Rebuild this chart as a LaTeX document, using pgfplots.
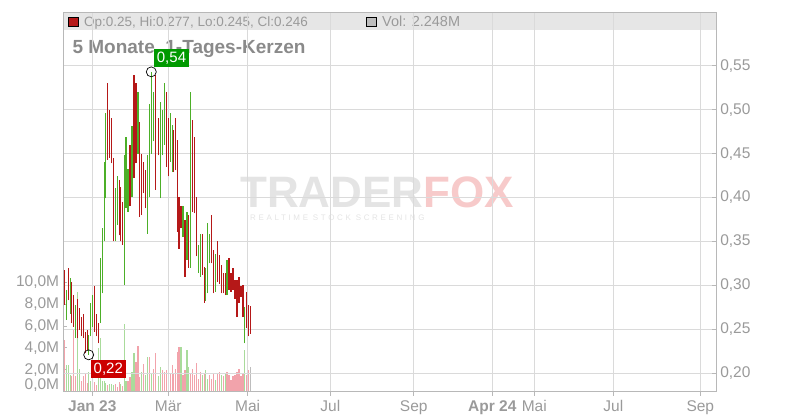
\documentclass[border=0pt]{standalone}
\usepackage{fontspec}
\setmainfont{Liberation Sans}
\usepackage{pgfplots}
\usepackage{pgfplotstable}
\pgfplotsset{compat=1.18}

\definecolor{lblgray}{HTML}{9A9A9A}
\definecolor{titlegray}{HTML}{8A8A8A}
\definecolor{gridgray}{HTML}{DADADA}
\definecolor{axisgray}{HTML}{B8B8B8}
\definecolor{cred}{HTML}{B51818}
\definecolor{cgreen}{HTML}{4CAF28}
\definecolor{vred}{HTML}{F2A3AB}
\definecolor{vgreen}{HTML}{A9DB9B}
\definecolor{vgray}{HTML}{BDBDBD}
\definecolor{hdr}{HTML}{E6E6E6}
\definecolor{boxgreen}{HTML}{009900}
\definecolor{boxred}{HTML}{CC0000}
\definecolor{wmgray}{HTML}{E4E4E4}
\definecolor{wmpink}{HTML}{F7CACA}

% x = pixel position, lo/hi = price range, c = candle colour (0 red, 1 green),
% v = volume in millions, vc = volume colour (0 red, 1 green, 2 grey)
\pgfplotstableread{
x lo hi c v vc
64.3 0.278 0.318 0 4.7 0
66.3 0.261 0.295 1 2.4 1
68.3 0.283 0.320 0 2.4 1
70.3 0.268 0.308 1 1.5 1
71.7 0.257 0.304 0 1.4 0
73.7 0.253 0.289 0 5.6 0
75.7 0.240 0.278 1 1.4 0
77.3 0.240 0.285 0 9.1 1
79.3 0.249 0.274 0 2.1 1
81.3 0.242 0.264 0 1.0 0
83.3 0.240 0.268 0 1.4 0
85.3 0.223 0.247 0 1.7 0
87.3 0.227 0.249 0 0.8 0
88.7 0.221 0.244 1 1.8 1
90.7 0.242 0.280 1 1.0 1
92.7 0.253 0.289 1 1.0 1
94.3 0.247 0.299 0 0.9 0
96.3 0.242 0.268 0 0.6 0
98.3 0.234 0.257 0 4.0 1
100.3 0.257 0.331 1 4.9 1
102.3 0.291 0.365 1 1.0 1
104.3 0.350 0.441 1 1.0 1
105.7 0.399 0.496 1 0.8 1
107.7 0.443 0.530 0 0.6 0
109.3 0.445 0.500 0 0.7 1
111.3 0.439 0.490 0 0.7 1
113.3 0.350 0.445 0 0.6 1
115.3 0.350 0.411 1 0.7 0
117.3 0.369 0.424 1 0.4 0
119.3 0.357 0.420 0 0.9 0
120.7 0.350 0.412 0 0.7 1
122.7 0.346 0.395 0 0.5 0
124.3 0.301 0.448 1 6.2 1
126.0 0.388 0.469 1 1.0 1
128.0 0.384 0.433 1 1.0 0
130.0 0.390 0.460 0 1.3 0
132.0 0.401 0.481 1 1.8 1
134.0 0.422 0.539 0 3.5 1
136.0 0.439 0.530 0 2.7 0
138.0 0.450 0.520 1 4.2 0
139.7 0.378 0.486 0 1.3 0
141.7 0.380 0.450 0 1.8 1
143.7 0.405 0.441 0 2.5 0
145.3 0.388 0.431 0 1.5 1
147.3 0.359 0.448 1 3.2 1
149.3 0.401 0.507 1 3.2 0
151.3 0.450 0.543 1 1.6 1
153.3 0.464 0.520 1 2.1 0
155.7 0.409 0.539 0 3.5 0
158.3 0.448 0.490 0 1.4 1
160.3 0.399 0.509 1 2.3 1
162.3 0.448 0.500 1 2.0 0
164.3 0.460 0.530 1 1.8 0
166.3 0.435 0.520 0 2.0 0
168.3 0.424 0.490 0 2.1 1
170.3 0.441 0.496 1 1.7 0
172.3 0.429 0.483 1 2.4 0
173.7 0.429 0.477 0 1.7 0
175.7 0.431 0.490 0 2.1 0
177.7 0.361 0.465 0 3.6 0
179.0 0.342 0.401 0 4.1 0
181.0 0.365 0.390 0 4.1 1
183.0 0.355 0.390 1 1.5 0
185.0 0.310 0.374 0 2.0 0
187.0 0.329 0.384 1 3.8 1
188.3 0.320 0.380 0 2.3 1
190.3 0.320 0.520 1 1.7 0
192.3 0.384 0.488 0 2.1 0
194.3 0.382 0.469 0 1.5 0
196.3 0.333 0.401 0 2.6 0
198.3 0.314 0.346 1 1.2 0
200.3 0.310 0.359 1 1.8 0
202.3 0.312 0.359 0 1.5 1
204.3 0.280 0.321 0 1.7 0
205.7 0.282 0.320 1 2.0 1
207.7 0.291 0.371 1 1.2 1
209.7 0.325 0.359 1 1.5 0
211.7 0.325 0.380 0 1.2 0
213.7 0.291 0.340 0 1.7 0
215.7 0.293 0.336 1 1.1 1
217.7 0.304 0.350 0 1.7 0
219.7 0.302 0.335 0 1.8 0
221.7 0.291 0.323 0 1.5 1
223.7 0.291 0.314 0 1.4 0
225.7 0.289 0.314 0 1.7 1
227.0 0.289 0.329 1 1.8 0
229.0 0.295 0.331 0 1.5 0
231.0 0.293 0.314 0 1.1 0
233.0 0.295 0.320 0 1.4 0
235.0 0.285 0.306 0 1.5 0
237.0 0.264 0.306 0 1.8 0
239.0 0.280 0.310 0 2.1 0
241.0 0.287 0.299 0 1.4 0
243.0 0.264 0.300 0 1.6 0
244.3 0.234 0.276 1 3.8 1
246.3 0.251 0.293 0 1.5 0
248.3 0.242 0.278 0 2.0 0
250.3 0.245 0.277 0 2.248 2
}\candles

\pgfplotsset{
  base/.style={
    at={(63.3pt,28.3pt)}, anchor=south west,
    scale only axis, width=652.8pt, height=379pt,
    xmin=63.3, xmax=716.1,
    axis line style={draw=axisgray, line width=0.8pt},
    tick style={draw=axisgray, line width=0.8pt},
    major tick length=4pt,
    ticklabel style={font=\fontsize{15.5}{15.5}\selectfont, text=lblgray},
  }
}

\begin{document}
\begin{tikzpicture}
\useasboundingbox (0pt,0pt) rectangle (800pt,420pt);
% header band
\fill[hdr] (63.3pt,390pt) rectangle (716.1pt,407.3pt);
% watermark
\node[anchor=base west, inner sep=0pt, font=\bfseries\fontsize{44}{44}\selectfont] at (240pt,212pt) {\textcolor{wmgray}{TRADER}\textcolor{wmpink}{FOX}};
\node[anchor=base west, inner sep=0pt, font=\fontsize{8}{8}\selectfont\addfontfeatures{LetterSpace=33}, text=wmgray] at (250pt,199pt) {REALTIME STOCK SCREENING};
% header legend
\filldraw[fill=cred, draw=black, line width=0.6pt] (68.3pt,393.3pt) rectangle (78.7pt,402.7pt);
\node[anchor=base west, inner sep=0pt, font=\fontsize{13.5}{13.5}\selectfont, text=lblgray] at (84pt,393.3pt) {Op:0.25, Hi:0.277, Lo:0.245, Cl:0.246};
\filldraw[fill=vgray, draw=black, line width=0.6pt] (366pt,393.3pt) rectangle (376.7pt,402.7pt);
\node[anchor=base west, inner sep=0pt, font=\fontsize{14.5}{14.5}\selectfont, text=lblgray] at (382pt,393.3pt) {Vol: 2.248M};
% title
\node[anchor=base west, inner sep=0pt, font=\bfseries\fontsize{19}{19}\selectfont, text=titlegray] at (72.3pt,366pt) {5 Monate, 1-Tages-Kerzen};

% volume axis (left)
\begin{axis}[base,
  ymin=0, ymax=34.61,
  xtick=\empty,
  ytick={0,2,4,6,8,10},
  yticklabels={{\raisebox{2.4pt}[0pt][0pt]{0,0M}},{2,0M},{4,0M},{6,0M},{8,0M},{10,0M}},
  ytick pos=left,
  yticklabel style={anchor=east, inner sep=0pt, xshift=-4pt},
]
\addplot[ycomb, draw=vred, line width=1.3pt, mark=none, restrict expr to domain={\thisrow{vc}}{-0.5:0.5}] table[x=x, y=v] {\candles};
\addplot[ycomb, draw=vgreen, line width=1.3pt, mark=none, restrict expr to domain={\thisrow{vc}}{0.5:1.5}] table[x=x, y=v] {\candles};
\addplot[ycomb, draw=vgray, line width=1.3pt, mark=none, restrict expr to domain={\thisrow{vc}}{1.5:2.5}] table[x=x, y=v] {\candles};
\end{axis}

% price axis (right)
\begin{axis}[base,
  ymin=0.17906, ymax=0.61033,
  ytick={0.2,0.25,0.3,0.35,0.4,0.45,0.5,0.55},
  yticklabels={{0,20},{0,25},{0,30},{0,35},{0,40},{0,45},{0,50},{0,55}},
  ytick pos=right,
  yticklabel style={anchor=west, inner sep=0pt, xshift=4pt},
  xtick={92.3,168.3,247.7,330.3,413.7,492.3,534.3,613.3,700.3},
  xticklabels={\textbf{Jan 23},Mär,Mai,Jul,Sep,\textbf{Apr 24},Mai,Jul,Sep},
  xtick pos=bottom,
  xtick style={yshift=-4pt},
  xticklabel style={anchor=north, inner sep=0pt, yshift=-9pt, text height=11pt},
  grid=major,
  major grid style={draw=gridgray, line width=0.8pt},
]
\addplot[draw=none, mark=none, forget plot,
  restrict expr to domain={\thisrow{c}}{-0.5:0.5},
  error bars/.cd, y dir=plus, y explicit, error mark=none,
  error bar style={draw=cred, line width=1.1pt}]
  table[x=x, y=lo, y error expr=\thisrow{hi}-\thisrow{lo}] {\candles};
\addplot[draw=none, mark=none, forget plot,
  restrict expr to domain={\thisrow{c}}{0.5:1.5},
  error bars/.cd, y dir=plus, y explicit, error mark=none,
  error bar style={draw=cgreen, line width=1.1pt}]
  table[x=x, y=lo, y error expr=\thisrow{hi}-\thisrow{lo}] {\candles};
\addplot[only marks, mark=o, mark size=5pt, mark options={draw=black, line width=0.7pt}] coordinates {(151.3,0.543) (88.7,0.221)};
\node[fill=boxgreen, text=white, inner xsep=3pt, inner ysep=0pt, minimum height=18pt, font=\fontsize{15}{15}\selectfont] at (axis cs:171.5,0.5588) {0,54};
\node[fill=boxred, text=white, inner xsep=3pt, inner ysep=0pt, minimum height=18pt, font=\fontsize{15}{15}\selectfont] at (axis cs:108.3,0.2047) {0,22};
\end{axis}
\end{tikzpicture}
\end{document}
